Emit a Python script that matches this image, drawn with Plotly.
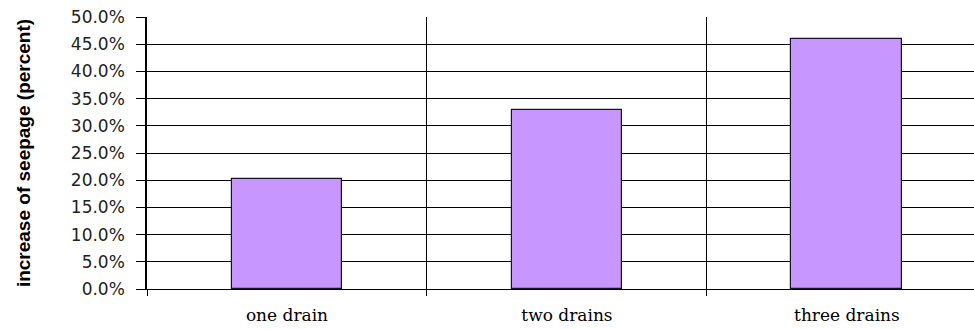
import plotly.graph_objects as go

categories = ["one drain", "two drains", "three drains"]
values = [20.2, 32.9, 46.0]  # percent
y_ticks = [0, 5, 10, 15, 20, 25, 30, 35, 40, 45, 50]
y_tick_labels = [f"{v:.1f}%" for v in y_ticks]

fig = go.Figure()
fig.add_trace(go.Bar(
    x=categories, y=values, width=0.396,
    marker=dict(color="#C896FF", line=dict(color="#1a1030", width=1.2)),
))

fig.update_layout(
    width=974, height=329,
    margin=dict(l=147, r=0, t=17, b=40),
    paper_bgcolor="white", plot_bgcolor="white",
    showlegend=False,
    bargap=0,
)
fig.update_xaxes(
    type="category",
    range=[-0.5, 2.454],
    tickson="boundaries",
    showgrid=True, gridcolor="black", gridwidth=1,
    ticks="outside", ticklen=6, tickcolor="black",
    showline=True, linecolor="black", linewidth=1,
    tickfont=dict(family="DejaVu Serif", size=17, color="black"),
    ticklabelstandoff=11,
)
fig.update_yaxes(
    range=[0, 50],
    tickvals=y_ticks, ticktext=y_tick_labels,
    showgrid=True, gridcolor="black", gridwidth=1,
    ticks="outside", ticklen=9, tickcolor="black",
    showline=True, linecolor="black", linewidth=1.5,
    zeroline=False,
    tickfont=dict(family="DejaVu Sans", size=17, color="#222"),
    ticklabelstandoff=8,
    title=dict(text="<b>increase of seepage (percent)</b>",
               font=dict(family="Liberation Sans Narrow, Arial Narrow, Liberation Sans", size=19, color="black"),
               standoff=35),
)

fig.write_html("out.html")
